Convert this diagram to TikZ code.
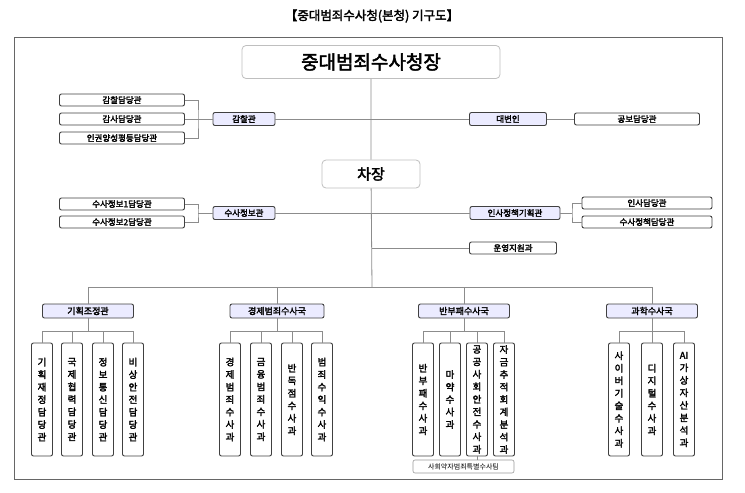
\documentclass[tikz,border=0pt]{standalone}
\usepackage{fontspec}
\setmainfont{Noto Sans CJK KR}[AutoFakeBold=2.5]
\usetikzlibrary{positioning}

\tikzset{
  unit/.style={draw=black!75, line width=0.9pt, rounded corners=2pt, fill=white,
    font=\bfseries\fontsize{8.5}{9}\selectfont, inner sep=1pt},
  head/.style={unit, fill=blue!8},
  top/.style={draw=black!25, line width=0.8pt, rounded corners=4pt, fill=white, font=\bfseries},
  vbox/.style={unit, minimum width=21pt, text width=12pt, minimum height=113pt,
    align=center, font=\bfseries\fontsize{9.5}{12.5}\selectfont},
  link/.style={draw=black!45, line width=0.8pt}
}

\begin{document}
\begin{tikzpicture}[x=1pt,y=-1pt]
\useasboundingbox (0,0) rectangle (745,493);

\node[font=\bfseries\fontsize{12.5}{13}\selectfont] (title) at (372,16) {【중대범죄수사청(본청) 기구도】};
\draw[black!60, line width=1pt] (14,37) rectangle (722,479);

% top level
\node[top, minimum width=258pt, minimum height=33pt, font=\bfseries\fontsize{19}{20}\selectfont] (chief) at (371,62) {중대범죄수사청장};
\node[top, minimum width=98pt, minimum height=28pt, font=\bfseries\fontsize{15}{16}\selectfont] (deputy) at (371,174) {차장};
\coordinate (busc) at (372,287);
\draw[link] (chief) -- (deputy) -- (busc);

% inspection
\node[head, minimum width=62pt, minimum height=13pt] (insp) at (244,119) {감찰관};
\node[unit, minimum width=125pt, minimum height=12pt] (insp1) at (122,100) {감찰담당관};
\node[unit, minimum width=125pt, minimum height=12pt] (insp2) at (122,119) {감사담당관};
\node[unit, minimum width=125pt, minimum height=12pt] (insp3) at (122,138) {인권양성평등담당관};
\coordinate (inspb) at (198,119);
\draw[link] (insp1.east) -| (inspb) |- (insp3.east);
\draw[link] (insp2) -- (insp);
\draw[link] (insp) -- (372,119);

\node[head, minimum width=77pt, minimum height=13pt] (spk) at (508,119) {대변인};
\node[unit, minimum width=125pt, minimum height=12pt] (pr) at (637,119) {공보담당관};
\draw[link] (372,119) -- (spk) -- (pr);

% intelligence
\node[head, minimum width=62pt, minimum height=13pt] (intel) at (244,213) {수사정보관};
\node[unit, minimum width=125pt, minimum height=12pt] (intel1) at (122,204) {수사정보1담당관};
\node[unit, minimum width=125pt, minimum height=12pt] (intel2) at (122,222) {수사정보2담당관};
\coordinate (intelb) at (198,213);
\draw[link] (intel1.east) -| (intelb) |- (intel2.east);
\draw[link] (intelb) -- (intel) -- (372,213);

\node[head, minimum width=90pt, minimum height=13pt] (hr) at (515,213) {인사정책기획관};
\node[unit, minimum width=130pt, minimum height=12pt] (hr1) at (647,203) {인사담당관};
\node[unit, minimum width=130pt, minimum height=12pt] (hr2) at (647,222) {수사정책담당관};
\coordinate (hrb) at (572,213);
\draw[link] (hr1.west) -| (hrb) |- (hr2.west);
\draw[link] (372,213) -- (hr) -- (hrb);

\node[unit, minimum width=87pt, minimum height=12pt] (ops) at (513,248) {운영지원과};
\draw[link] (372,248) -- (ops);

% bureaus
\draw[link] (88,287) -- (652,287);
\foreach \name/\x/\w/\txt in {plan/88/91/기획조정관, econ/277/94/경제범죄수사국,
    anti/464/91/반부패수사국, sci/652/91/과학수사국}{
  \node[head, minimum width=\w pt, minimum height=14pt, font=\bfseries\fontsize{9}{9}\selectfont] (\name) at (\x,311) {\txt};
  \draw[link] (\x,287) -- (\name);
  \draw[link] (\name) -- (\x,331);
}

% divisions
\foreach \lx/\rx in {42/133, 230/322, 423/504, 619/684}
  \draw[link] (\lx,331) -- (\rx,331);

\foreach \name/\x/\txt in {
    p1/42/기\\획\\재\\정\\담\\당\\관, p2/72/국\\제\\협\\력\\담\\당\\관,
    p3/103/정\\보\\통\\신\\담\\당\\관, p4/133/비\\상\\안\\전\\담\\당\\관,
    e1/230/경\\제\\범\\죄\\수\\사\\과, e2/261/금\\융\\범\\죄\\수\\사\\과,
    e3/292/반\\독\\점\\수\\사\\과, e4/322/범\\죄\\수\\익\\수\\사\\과,
    a1/423/반\\부\\패\\수\\사\\과, a2/450/마\\약\\수\\사\\과,
    a3/477/공\\공\\사\\회\\안\\전\\수\\사\\과, a4/504/자\\금\\추\\적\\회\\계\\분\\석\\과,
    s1/619/사\\이\\버\\기\\술\\수\\사\\과, s2/652/디\\지\\털\\수\\사\\과,
    s3/684/AI\\가\\상\\자\\산\\분\\석\\과}{
  \node[vbox] (\name) at (\x,399.5) {\txt};
  \draw[link] (\x,331) -- (\name);
}

\node[unit, draw=black!40, line width=0.6pt, minimum width=101pt, minimum height=13pt,
  font=\fontsize{7}{8}\selectfont] (team) at (463.5,466.5) {사회약자범죄특별수사팀};
\draw[link] (a3) -- (a3 |- team.north);
\end{tikzpicture}
\end{document}
